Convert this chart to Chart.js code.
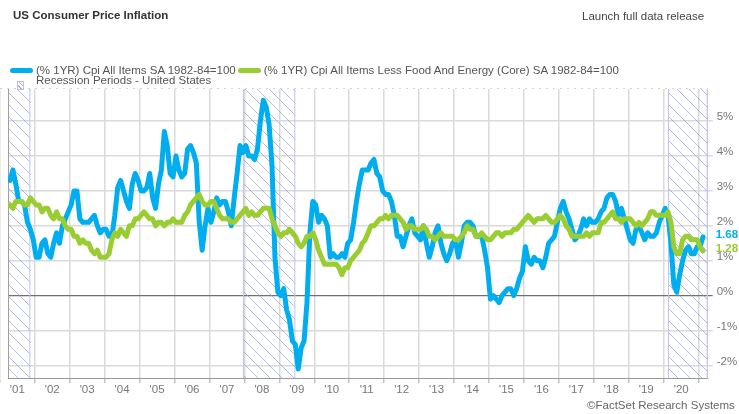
<!DOCTYPE html>
<html>
<head>
<meta charset="utf-8">
<script src="https://cdn.jsdelivr.net/npm/chart.js@4.4.1/dist/chart.umd.min.js"></script>
<style>
  body { margin: 0; background: #fff; font-family: Arial, "Liberation Sans", sans-serif; }
  #wrap { position: relative; width: 739px; height: 414px; overflow: hidden; }
  #chart { position: absolute; left: 0; top: 0; }
  .txt { position: absolute; font-size: 11.5px; line-height: 14px; white-space: nowrap; }
  #title { left: 13px; top: 8px; font-weight: bold; color: #333; }
  #launch { left: 582px; top: 9px; color: #444; }
  #footer { left: 587px; top: 398px; color: #666; }
  #legend1 { position: absolute; left: 10px; top: 63px; display: flex; align-items: center; font-size: 11.5px; line-height: 14px; color: #555; white-space: nowrap; }
  #legend1 .pill { width: 23px; height: 5px; border-radius: 3px; margin-right: 3px; }
  #legend1 .lab { margin-right: 2px; }
  #recIcon { position: absolute; left: 17px; top: 81px; width: 5px; height: 7px; border: 1px solid #b9c3ee;
    background: repeating-linear-gradient(45deg, #fff 0 2px, #9fb0ea 2px 3px); }
  #recText { left: 36px; top: 73px; color: #555; }
</style>
</head>
<body>
<div id="wrap">
  <canvas id="chart" width="739" height="414"></canvas>
  <div class="txt" id="title">US Consumer Price Inflation</div>
  <div class="txt" id="launch">Launch full data release</div>
  <div id="legend1"></div>
  <div id="recIcon"></div>
  <div class="txt" id="recText">Recession Periods - United States</div>
  <div class="txt" id="footer">©FactSet Research Systems</div>
</div>
<script>
// monthly year-over-year % change, Apr 2001 .. Feb 2021
const startYear = 2001, startMonth = 4;

const cpiAll = [
  3.3, 3.6, 3.2, 2.7, 2.7, 2.6, 2.1, 1.9, 1.6,
  1.1, 1.1, 1.5, 1.6, 1.2, 1.1, 1.5, 1.8, 1.5, 2.0, 2.2, 2.4,
  2.6, 3.0, 3.0, 2.2, 2.1, 2.1, 2.1, 2.2, 2.3, 2.0, 1.8, 1.9,
  1.9, 1.7, 1.7, 2.3, 3.1, 3.3, 3.0, 2.7, 2.5, 3.2, 3.5, 3.3,
  3.0, 3.0, 3.1, 3.5, 2.8, 2.5, 3.2, 3.6, 4.7, 4.3, 3.5, 3.4,
  4.0, 3.6, 3.4, 3.5, 4.2, 4.3, 4.1, 3.8, 2.1, 1.3, 2.0, 2.5,
  2.1, 2.4, 2.8, 2.6, 2.7, 2.7, 2.4, 2.0, 2.8, 3.5, 4.3, 4.1,
  4.3, 4.0, 4.0, 3.9, 4.2, 5.0, 5.6, 5.4, 4.9, 3.7, 1.1, 0.1,
  0.0, 0.2, -0.4, -0.7, -1.3, -1.4, -2.1, -1.5, -1.3, -0.2, 1.8, 2.7,
  2.6, 2.1, 2.3, 2.2, 2.0, 1.1, 1.2, 1.1, 1.1, 1.2, 1.1, 1.5,
  1.6, 2.1, 2.7, 3.2, 3.6, 3.6, 3.6, 3.8, 3.9, 3.5, 3.4, 3.0,
  2.9, 2.9, 2.7, 2.3, 1.7, 1.7, 1.4, 1.7, 2.0, 2.2, 1.8, 1.7,
  1.6, 2.0, 1.5, 1.1, 1.4, 1.8, 2.0, 1.5, 1.2, 1.0, 1.2, 1.5,
  1.6, 1.1, 1.5, 2.0, 2.1, 2.1, 2.0, 1.7, 1.7, 1.7, 1.3, 0.8,
  -0.1, 0.0, -0.1, -0.2, 0.0, 0.1, 0.2, 0.2, 0.0, 0.2, 0.5, 0.7,
  1.4, 1.0, 0.9, 1.1, 1.0, 1.0, 0.8, 1.1, 1.5, 1.6, 1.7, 2.1,
  2.5, 2.7, 2.4, 2.2, 1.9, 1.6, 1.7, 1.9, 2.2, 2.0, 2.2, 2.1,
  2.1, 2.2, 2.4, 2.5, 2.8, 2.9, 2.9, 2.7, 2.3, 2.5, 2.2, 1.9,
  1.6, 1.5, 1.9, 2.0, 1.8, 1.6, 1.8, 1.7, 1.7, 1.8, 2.1, 2.3,
  2.5, 2.3, 1.5, 0.3, 0.1, 0.6, 1.0, 1.3, 1.4, 1.2, 1.2, 1.4,
  1.4, 1.68
];

const cpiCore = [
  2.6, 2.5, 2.7, 2.7, 2.7, 2.6, 2.6, 2.8, 2.7,
  2.6, 2.6, 2.4, 2.5, 2.5, 2.3, 2.2, 2.4, 2.2, 2.2, 2.0, 1.9,
  1.9, 1.7, 1.7, 1.5, 1.6, 1.5, 1.5, 1.3, 1.2, 1.3, 1.1, 1.1,
  1.1, 1.2, 1.6, 1.8, 1.7, 1.9, 1.8, 1.7, 2.0, 2.0, 2.2, 2.2,
  2.3, 2.4, 2.3, 2.2, 2.2, 2.0, 2.1, 2.1, 2.0, 2.1, 2.1, 2.2,
  2.1, 2.1, 2.1, 2.3, 2.4, 2.6, 2.7, 2.8, 2.9, 2.7, 2.6, 2.6,
  2.7, 2.7, 2.5, 2.3, 2.2, 2.2, 2.2, 2.1, 2.1, 2.2, 2.3, 2.4,
  2.5, 2.3, 2.4, 2.3, 2.3, 2.4, 2.5, 2.5, 2.5, 2.2, 2.0, 1.8,
  1.7, 1.8, 1.8, 1.9, 1.8, 1.7, 1.5, 1.4, 1.5, 1.7, 1.7, 1.8,
  1.6, 1.3, 1.1, 0.9, 0.9, 0.9, 0.9, 0.9, 0.8, 0.6, 0.8, 0.8,
  1.0, 1.1, 1.2, 1.3, 1.5, 1.6, 1.8, 2.0, 2.0, 2.1, 2.2, 2.2,
  2.3, 2.2, 2.3, 2.3, 2.3, 2.2, 2.1, 1.9, 2.0, 2.0, 1.9, 1.9,
  1.9, 2.0, 1.9, 1.7, 1.7, 1.6, 1.7, 1.8, 1.7, 1.7, 1.7, 1.7,
  1.6, 1.6, 1.7, 1.8, 2.0, 1.9, 1.9, 1.7, 1.7, 1.8, 1.7, 1.6,
  1.6, 1.7, 1.8, 1.8, 1.7, 1.8, 1.8, 1.8, 1.9, 1.9, 2.0, 2.1,
  2.2, 2.3, 2.2, 2.1, 2.2, 2.2, 2.2, 2.3, 2.2, 2.1, 2.1, 2.2,
  2.3, 2.2, 2.0, 1.9, 1.7, 1.7, 1.7, 1.7, 1.7, 1.8, 1.7, 1.8,
  1.8, 1.8, 2.1, 2.1, 2.2, 2.3, 2.4, 2.2, 2.2, 2.1, 2.2, 2.2,
  2.2, 2.1, 2.0, 2.1, 2.0, 2.1, 2.2, 2.4, 2.4, 2.3, 2.3, 2.3,
  2.3, 2.4, 2.1, 1.4, 1.2, 1.2, 1.6, 1.7, 1.7, 1.6, 1.6, 1.6,
  1.4, 1.28
];

// recession periods [start, end] as 'YYYY-MM' (null = still open)
const recessions = [['2001-03', '2001-11'], ['2007-12', '2009-06'], ['2020-02', null]];
const yearTicks = [2001, 2002, 2003, 2004, 2005, 2006, 2007, 2008, 2009, 2010, 2011,
  2012, 2013, 2014, 2015, 2016, 2017, 2018, 2019, 2020, 2021];
const pctTicks = [-2, -1, 0, 1, 2, 3, 4, 5];

const seriesNames = ['(% 1YR) Cpi All Items SA 1982-84=100',
  '(% 1YR) Cpi All Items Less Food And Energy (Core) SA 1982-84=100'];
const blue = '#00aeef', green = '#9acd32';

// month -> fractional year (middle of the month)
function monthPos(i) { return startYear + (startMonth - 1 + i + 0.5) / 12; }
function ymPos(s) { const [y, m] = s.split('-').map(Number); return y + (m - 0.5) / 12; }
const toPoints = arr => arr.map((v, i) => ({ x: monthPos(i), y: v }));

// hatch pattern for recession bands
function makeHatch() {
  const s = 12, c = document.createElement('canvas');
  c.width = s; c.height = s;
  const g = c.getContext('2d');
  g.strokeStyle = 'rgba(130,150,230,0.65)';
  g.lineWidth = 1;
  g.beginPath();
  g.moveTo(0, 0); g.lineTo(s, s);
  g.moveTo(-1, s - 1); g.lineTo(1, s + 1);
  g.moveTo(s - 1, -1); g.lineTo(s + 1, 1);
  g.stroke();
  return g.createPattern(c, 'repeat');
}
const hatch = makeHatch();

const recessionBands = {
  id: 'recessionBands',
  beforeDatasetsDraw(chart) {
    const { ctx, chartArea: a, scales: { x } } = chart;
    ctx.save();
    recessions.forEach(r => {
      let x1 = x.getPixelForValue(ymPos(r[0]));
      let x2 = r[1] ? x.getPixelForValue(ymPos(r[1])) : a.right;
      x1 = Math.max(x1, a.left); x2 = Math.min(x2, a.right);
      ctx.fillStyle = hatch;
      ctx.fillRect(x1, a.top, x2 - x1, a.bottom - a.top);
      ctx.strokeStyle = '#bcc6f2';
      ctx.lineWidth = 1;
      ctx.beginPath();
      ctx.moveTo(x1 + 0.5, a.top); ctx.lineTo(x1 + 0.5, a.bottom);
      ctx.moveTo(x2 - 0.5, a.top); ctx.lineTo(x2 - 0.5, a.bottom);
      ctx.stroke();
    });
    // left border and faint dotted top line
    ctx.strokeStyle = '#a0a0a0';
    ctx.beginPath();
    ctx.moveTo(a.left + 0.5, a.top); ctx.lineTo(a.left + 0.5, a.bottom);
    ctx.stroke();
    ctx.strokeStyle = '#d4d4d4';
    ctx.setLineDash([2, 5]);
    ctx.beginPath();
    ctx.moveTo(0, a.top - 0.5); ctx.lineTo(a.right, a.top - 0.5);
    ctx.stroke();
    ctx.restore();
  }
};

const lastValues = {
  id: 'lastValues',
  afterDraw(chart) {
    const { ctx, chartArea: a, scales: { y } } = chart;
    ctx.save();
    ctx.font = 'bold 11.5px Arial, "Liberation Sans", sans-serif';
    ctx.textBaseline = 'middle';
    ctx.textAlign = 'left';
    chart.data.datasets.forEach(ds => {
      const v = ds.data[ds.data.length - 1].y;
      ctx.fillStyle = ds.borderColor;
      ctx.fillText(v.toFixed(2), a.right + 8, y.getPixelForValue(v) - 2.5);
    });
    ctx.restore();
  }
};

Chart.defaults.font.family = 'Arial, "Liberation Sans", sans-serif';
Chart.defaults.font.size = 11.5;

const chart = new Chart(document.getElementById('chart'), {
  type: 'line',
  data: {
    datasets: [
      { label: seriesNames[0], data: toPoints(cpiAll), borderColor: blue, backgroundColor: blue,
        borderWidth: 5, pointRadius: 0, tension: 0, borderJoinStyle: 'round', borderCapStyle: 'round', order: 2 },
      { label: seriesNames[1], data: toPoints(cpiCore), borderColor: green, backgroundColor: green,
        borderWidth: 5, pointRadius: 0, tension: 0, borderJoinStyle: 'round', borderCapStyle: 'round', order: 1 }
    ]
  },
  options: {
    responsive: false,
    devicePixelRatio: 1,
    animation: false,
    layout: { padding: { left: 8, top: 89, right: 0, bottom: 0 } },
    plugins: { legend: { display: false }, title: { display: false }, tooltip: { enabled: false } },
    scales: {
      x: {
        type: 'linear',
        min: 2001.235,
        max: 2021.26,
        afterBuildTicks: s => { s.ticks = yearTicks.map(v => ({ value: v })); },
        afterFit: s => { s.height = 36; s.paddingLeft = 0; s.paddingRight = 0; },
        grid: { color: '#dadada', lineWidth: 1.5, tickLength: 5, tickColor: '#c4c4c4' },
        border: { display: true, color: '#9a9a9a', width: 1 },
        ticks: {
          autoSkip: false, maxRotation: 0, color: '#777', padding: 0, labelOffset: 17.5,
          callback: v => v < 2021 ? "'" + String(v).slice(2) : ''
        }
      },
      y: {
        position: 'right',
        min: -2.36,
        max: 5.92,
        afterBuildTicks: s => { s.ticks = pctTicks.map(v => ({ value: v })); },
        afterFit: s => { s.width = 31.3; },
        grid: {
          color: c => c.tick && c.tick.value === 0 ? '#707070' : '#dadada',
          lineWidth: c => c.tick && c.tick.value === 0 ? 1.2 : 1.5,
          tickLength: 5
        },
        border: { display: true, color: '#c8cdf0', width: 1 },
        ticks: { color: '#777', padding: 4, labelOffset: -4, callback: v => v + '%' }
      }
    }
  },
  plugins: [recessionBands, lastValues]
});

// html legend built from the datasets
const leg = document.getElementById('legend1');
chart.data.datasets.forEach(ds => {
  const p = document.createElement('span');
  p.className = 'pill';
  p.style.background = ds.borderColor;
  const t = document.createElement('span');
  t.className = 'lab';
  t.textContent = ds.label;
  leg.appendChild(p); leg.appendChild(t);
});
</script>
</body>
</html>
